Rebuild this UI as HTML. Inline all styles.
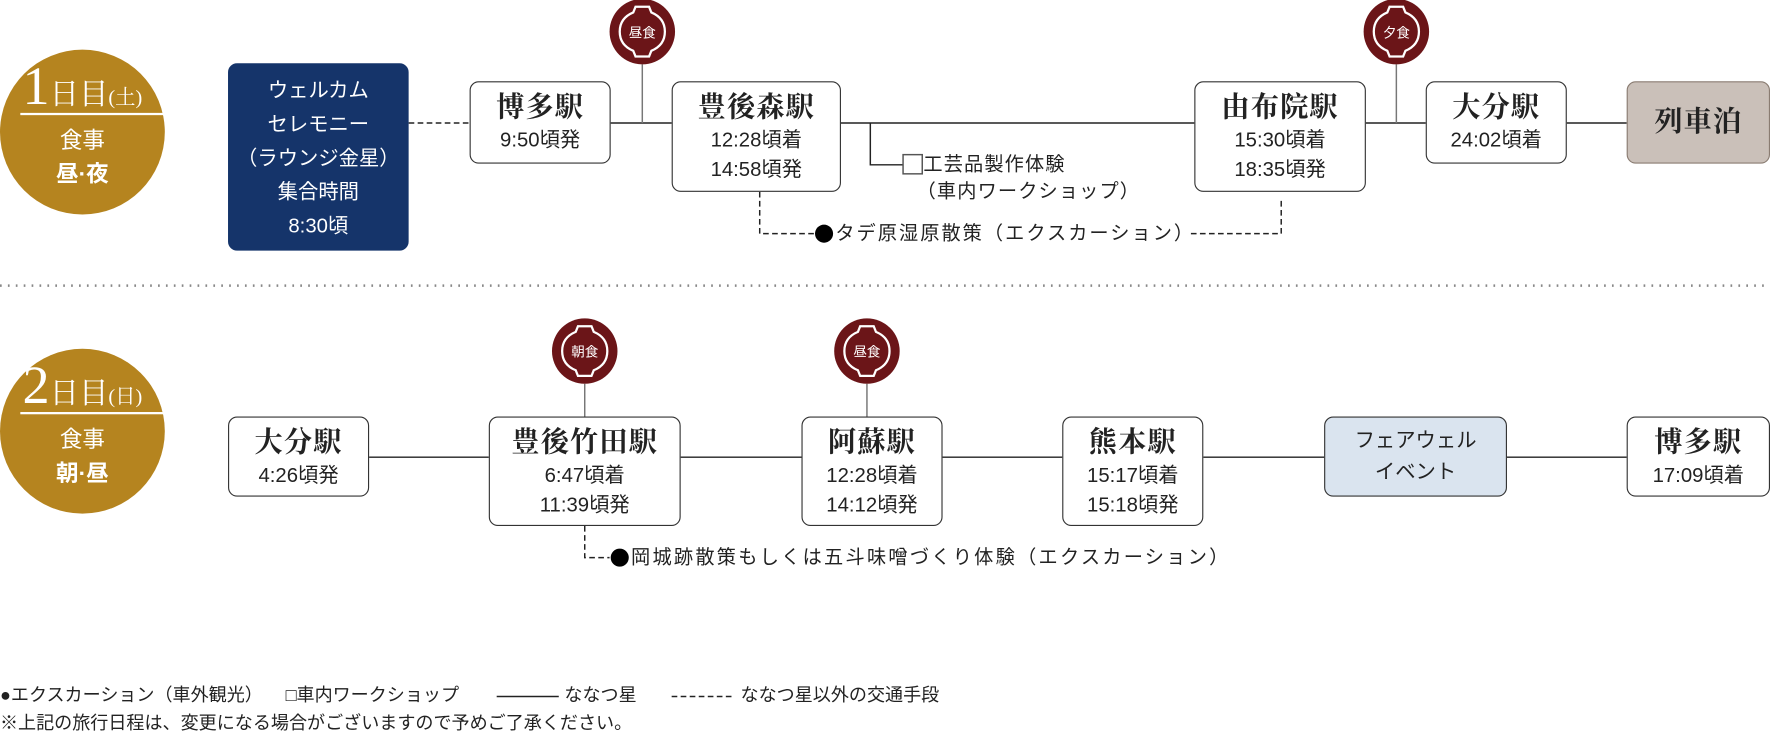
<!DOCTYPE html>
<html><head><meta charset="utf-8"><style>
html,body{margin:0;padding:0;background:#fff;width:1770px;height:738px;overflow:hidden}
#w{position:absolute;left:0;top:0;width:1568px;height:654px;transform:scale(1.12883);transform-origin:0 0;font-family:"Liberation Sans","Noto Sans CJK JP",sans-serif;color:#222}
.b{position:absolute;box-sizing:border-box;border:1.3px solid #333;border-radius:8px;background:#fff;text-align:center}
.t{font-family:"Liberation Serif","Noto Serif CJK SC",serif;font-weight:bold;font-size:25px;line-height:30px;margin-top:8px;letter-spacing:1px}
.s{font-size:18px;line-height:26px}
.c{position:absolute;width:146px;height:146px;border-radius:50%;background:#b5841f;color:#fff;text-align:center}
.a{position:absolute;font-size:17px;line-height:24px;white-space:nowrap}
svg{position:absolute;left:0;top:0}
</style></head><body><div id="w">
<svg width="1568" height="654">
<defs><g id="m"><circle r="29" fill="#6b1518"/><path d="M-6,-22 L6,-22 L8,-17 Q20,-12 20,0 Q20,12 8,17 L6,22 L-6,22 L-8,17 Q-20,12 -20,0 Q-20,-12 -8,-17 Z" fill="none" stroke="#fff" stroke-width="2"/></g></defs>
<g stroke="#222" stroke-width="1.3" fill="none">
<line x1="362" y1="109" x2="416" y2="109" stroke-dasharray="5,3"/>
<line x1="541" y1="109" x2="595" y2="109"/>
<line x1="569" y1="57" x2="569" y2="109" stroke="#777"/>
<line x1="745" y1="109" x2="1058" y2="109"/>
<polyline points="771,109 771,146 800,146"/>
<polyline points="673,170 673,207 722,207" stroke-dasharray="5,3"/>
<polyline points="1055,207 1135,207 1135,176" stroke-dasharray="5,3"/>
<line x1="1210" y1="109" x2="1263" y2="109"/>
<line x1="1237" y1="57" x2="1237" y2="109" stroke="#777"/>
<line x1="1388" y1="109" x2="1441" y2="109"/>
<line x1="0" y1="253" x2="1568" y2="253" stroke="#888" stroke-width="2.2" stroke-dasharray="1.5,5.5"/>
<line x1="327" y1="405" x2="433" y2="405"/>
<line x1="603" y1="405" x2="710" y2="405"/>
<line x1="835" y1="405" x2="941" y2="405"/>
<line x1="1066" y1="405" x2="1173" y2="405"/>
<line x1="1335" y1="405" x2="1441" y2="405"/>
<line x1="518" y1="340" x2="518" y2="369" stroke="#777"/>
<line x1="768" y1="340" x2="768" y2="369" stroke="#777"/>
<polyline points="518,466 518,494 540,494" stroke-dasharray="5,3"/>
<line x1="440" y1="617" x2="495" y2="617"/>
<line x1="595" y1="617" x2="650" y2="617" stroke-dasharray="5,3"/>
</g>
<rect x="800" y="137" width="17" height="17" fill="#fff" stroke="#555" stroke-width="1.3"/>
<circle cx="730" cy="207" r="8" fill="#000"/>
<circle cx="549" cy="494" r="8" fill="#000"/>
<g fill="#fff" font-size="12" text-anchor="middle" font-family="Noto Sans CJK JP,sans-serif">
<use href="#m" x="569" y="28"/><text x="569" y="33">昼食</text>
<use href="#m" x="1237" y="28"/><text x="1237" y="33">夕食</text>
<use href="#m" x="518" y="311"/><text x="518" y="316">朝食</text>
<use href="#m" x="768" y="311"/><text x="768" y="316">昼食</text>
</g>
</svg>

<div class="c" style="left:0;top:44px"><div style="margin-top:10px;height:46px;font-family:'Liberation Serif','Noto Serif CJK SC',serif;font-size:26px;line-height:46px"><span style="font-size:48px">1</span>日目<span style="font-size:18px">(土)</span></div><div style="width:127px;height:2px;background:#fff;margin:0 0 0 18px"></div><div style="font-size:20px;line-height:30px;margin-top:8px">食事<br><b>昼·夜</b></div></div>
<div class="c" style="left:0;top:309px"><div style="margin-top:10px;height:46px;font-family:'Liberation Serif','Noto Serif CJK SC',serif;font-size:26px;line-height:46px"><span style="font-size:48px">2</span>日目<span style="font-size:18px">(日)</span></div><div style="width:127px;height:2px;background:#fff;margin:0 0 0 18px"></div><div style="font-size:20px;line-height:30px;margin-top:8px">食事<br><b>朝·昼</b></div></div>

<div class="b" style="left:202px;top:56px;width:160px;height:166px;background:#15346a;color:#fff;border-color:#15346a;font-size:18px;line-height:30px;padding-top:8px">ウェルカム<br>セレモニー<br>（ラウンジ金星）<br>集合時間<br>8:30頃</div>
<div class="b" style="left:416px;top:72px;width:125px;height:73px"><div class="t">博多駅</div><div class="s">9:50頃発</div></div>
<div class="b" style="left:595px;top:72px;width:150px;height:98px"><div class="t">豊後森駅</div><div class="s">12:28頃着<br>14:58頃発</div></div>
<div class="b" style="left:1058px;top:72px;width:152px;height:98px"><div class="t">由布院駅</div><div class="s">15:30頃着<br>18:35頃発</div></div>
<div class="b" style="left:1263px;top:72px;width:125px;height:73px"><div class="t">大分駅</div><div class="s">24:02頃着</div></div>
<div class="b" style="left:1441px;top:72px;width:127px;height:73px;background:#cac0b9;border-color:#8a7c72"><div class="t" style="margin-top:21px">列車泊</div></div>
<div class="a" style="left:818px;top:134px;letter-spacing:1px">工芸品製作体験</div>
<div class="a" style="left:812px;top:158px;letter-spacing:1px">（車内ワークショップ）</div>
<div class="a" style="left:740px;top:195px;letter-spacing:1.8px">タデ原湿原散策（エクスカーション）</div>

<div class="b" style="left:202px;top:369px;width:125px;height:71px"><div class="t">大分駅</div><div class="s">4:26頃発</div></div>
<div class="b" style="left:433px;top:369px;width:170px;height:97px"><div class="t">豊後竹田駅</div><div class="s">6:47頃着<br>11:39頃発</div></div>
<div class="b" style="left:710px;top:369px;width:125px;height:97px"><div class="t">阿蘇駅</div><div class="s">12:28頃着<br>14:12頃発</div></div>
<div class="b" style="left:941px;top:369px;width:125px;height:97px"><div class="t">熊本駅</div><div class="s">15:17頃着<br>15:18頃発</div></div>
<div class="b" style="left:1173px;top:369px;width:162px;height:71px;background:#dae4ef;font-size:18px;line-height:28px;padding-top:6px">フェアウェル<br>イベント</div>
<div class="b" style="left:1441px;top:369px;width:127px;height:71px"><div class="t">博多駅</div><div class="s">17:09頃着</div></div>
<div class="a" style="left:559px;top:482px;letter-spacing:2px">岡城跡散策もしくは五斗味噌づくり体験（エクスカーション）</div>

<div class="a" style="left:0;top:605px;font-size:16px">●エクスカーション（車外観光）</div>
<div class="a" style="left:253px;top:605px;font-size:16px">□車内ワークショップ</div>
<div class="a" style="left:500px;top:605px;font-size:16px">ななつ星</div>
<div class="a" style="left:656px;top:605px;font-size:16px">ななつ星以外の交通手段</div>
<div class="a" style="left:0;top:630px;font-size:16px">※上記の旅行日程は、変更になる場合がございますので予めご了承ください。</div>
</div></body></html>
